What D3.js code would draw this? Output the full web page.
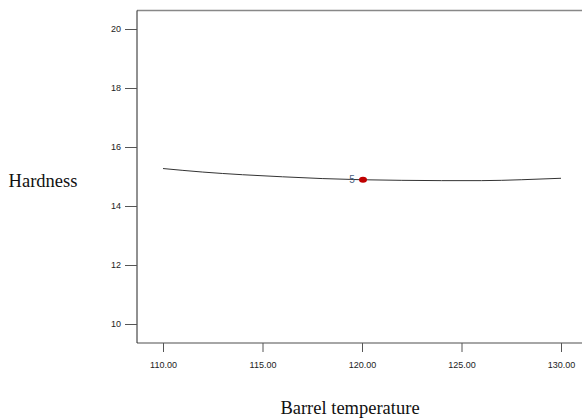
<!DOCTYPE html>
<html><head><meta charset="utf-8">
<script src="https://cdn.jsdelivr.net/npm/d3@7"></script>
<style>body{margin:0;background:#fff}svg{display:block}</style>
</head><body>
<script>
const temps = [110,112,114,116,118,120,122,124,126,128,130];
const hardness = [15.27,15.15,15.06,14.99,14.93,14.89,14.87,14.86,14.86,14.89,14.94];
const designPoint = {x:120, y:14.89, label:"5"};
const xTicks = [110,115,120,125,130];
const yTicks = [10,12,14,16,18,20];

const W=582,H=419;
const svg=d3.select("body").append("svg").attr("width",W).attr("height",H);
const x=d3.scaleLinear().domain([110,130]).range([163,561]);
const y=d3.scaleLinear().domain([10,20]).range([324,29]);
const fLeft=137, fTop=10.5, fBottom=343, fRight=584;

svg.append("line").attr("x1",fLeft).attr("x2",fRight).attr("y1",fTop).attr("y2",fTop).attr("stroke","#888").attr("stroke-width",1.5);
svg.append("line").attr("x1",fLeft).attr("x2",fRight).attr("y1",fBottom).attr("y2",fBottom).attr("stroke","#888").attr("stroke-width",1.5);
svg.append("line").attr("x1",fLeft).attr("x2",fLeft).attr("y1",fTop).attr("y2",fBottom).attr("stroke","#222").attr("stroke-width",1);

const xAxis=svg.append("g").attr("transform",`translate(0,${fBottom})`)
  .call(d3.axisBottom(x).tickValues(xTicks).tickFormat(d3.format(".2f")).tickSize(9).tickSizeOuter(0));
xAxis.select(".domain").remove();
xAxis.selectAll("line").attr("stroke","#555");
xAxis.selectAll("text").attr("font-family","Arial, Liberation Sans, sans-serif").attr("font-size",9).attr("fill","#222").attr("dy","1.45em");

const yAxis=svg.append("g").attr("transform",`translate(${fLeft},0)`)
  .call(d3.axisLeft(y).tickValues(yTicks).tickSize(12).tickSizeOuter(0));
yAxis.select(".domain").remove();
yAxis.selectAll("line").attr("stroke","#555");
yAxis.selectAll("text").attr("font-family","Arial, Liberation Sans, sans-serif").attr("font-size",9).attr("fill","#222").attr("x",-16);

const line=d3.line().x((d,i)=>x(temps[i])).y(d=>y(d)).curve(d3.curveMonotoneX);
svg.append("path").datum(hardness).attr("d",line).attr("fill","none").attr("stroke","#333").attr("stroke-width",1);

svg.append("ellipse").attr("cx",x(designPoint.x)+1).attr("cy",y(designPoint.y)).attr("rx",4).attr("ry",3).attr("fill","#c00000");
svg.append("text").attr("x",x(designPoint.x)-10).attr("y",y(designPoint.y)+3.5).attr("text-anchor","middle")
  .attr("font-family","Arial, Liberation Sans, sans-serif").attr("font-size",10).attr("fill","#4a6080").text(designPoint.label);

svg.append("text").attr("x",43).attr("y",187).attr("text-anchor","middle").attr("font-family","Liberation Serif, Times New Roman, serif").attr("font-size",18.5).attr("fill","#111").text("Hardness");
svg.append("text").attr("x",350).attr("y",414).attr("text-anchor","middle").attr("font-family","Liberation Serif, Times New Roman, serif").attr("font-size",18.5).attr("fill","#111").text("Barrel temperature");
</script>
</body></html>
